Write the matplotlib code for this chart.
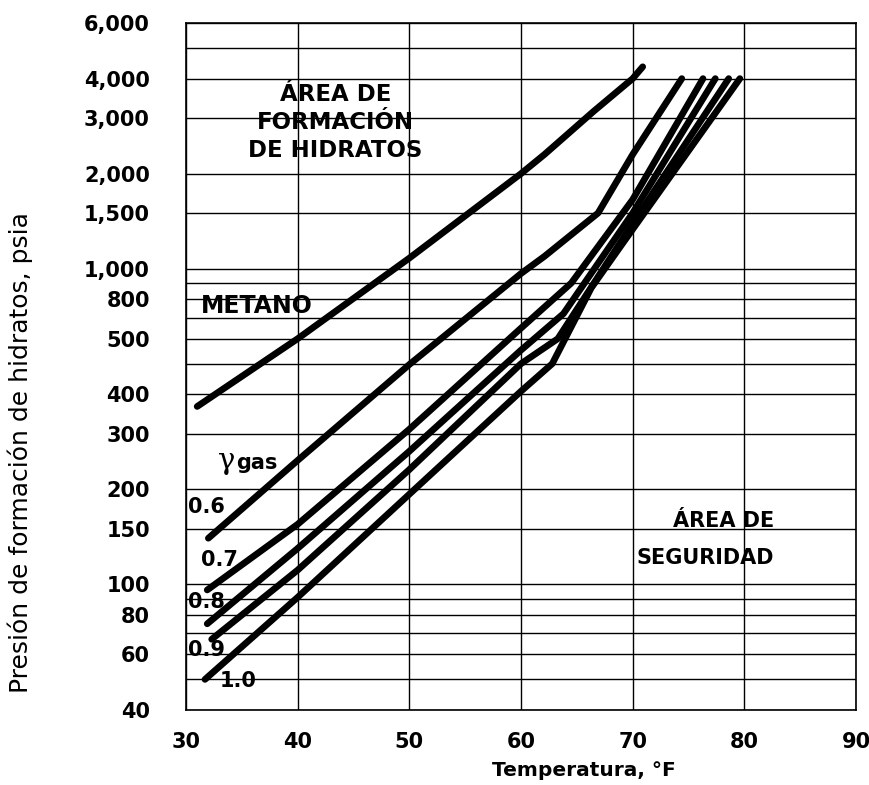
import matplotlib
matplotlib.use("Agg")
import matplotlib.pyplot as plt
from matplotlib.ticker import NullLocator

# Hydrate formation pressure (psia) vs temperature (°F)
metano_t = [31.0, 40, 50, 60, 62.1, 66.5, 70, 70.9]
metano_p = [366, 600, 1080, 2000, 2300, 3150, 4000, 4360]

g06_t = [32.0, 40, 50, 60, 62.1, 66.9, 70, 74.4]
g06_p = [140, 247, 497, 965, 1094, 1500, 2300, 4000]

g07_t = [31.9, 40, 50, 60, 64.5, 70, 76.3]
g07_p = [96, 155, 310, 648, 900, 1655, 4000]

g08_t = [31.9, 40, 50, 60, 63.8, 70, 77.4]
g08_p = [75, 130, 264, 552, 720, 1500, 4000]

g09_t = [32.3, 40, 50, 60, 63.3, 70, 78.6]
g09_p = [67, 111, 231, 500, 600, 1390, 4000]

g10_t = [31.7, 40, 50, 60, 62.8, 66.3, 68.9, 79.6]
g10_p = [50, 91, 193, 409, 500, 870, 1175, 4000]

gas_labels = ["0.6", "0.7", "0.8", "0.9", "1.0"]

x_ticks = [30, 40, 50, 60, 70, 80, 90]
y_grid = [40, 50, 60, 70, 80, 90, 100, 150, 200, 300, 400, 500, 600, 700,
          800, 900, 1000, 1500, 2000, 3000, 4000, 5000, 6000]
# labels as printed on the original chart (its "500" sits on the 600 line)
y_label_pos = [40, 60, 80, 100, 150, 200, 300, 400, 600, 800, 1000, 1500,
               2000, 3000, 4000, 6000]
y_label_txt = ["40", "60", "80", "100", "150", "200", "300", "400", "500",
               "800", "1,000", "1,500", "2,000", "3,000", "4,000", "6,000"]

plt.rcParams["font.family"] = ["DejaVu Sans"]

W, H = 870, 785
fig = plt.figure(figsize=(W / 100, H / 100), dpi=100)
ax = fig.add_axes([186 / W, 1 - 710 / H, 670 / W, 687 / H])

ax.set_yscale("log")
ax.set_xlim(30, 90)
ax.set_ylim(40, 6000)

# grid
for v in x_ticks:
    ax.axvline(v, color="black", lw=1.0, zorder=1)
for v in y_grid:
    ax.axhline(v, color="black", lw=1.0, zorder=1)

ax.set_xticks(x_ticks)
ax.set_xticklabels([str(v) for v in x_ticks])
ax.set_yticks(y_label_pos)
ax.set_yticklabels(y_label_txt)
ax.yaxis.set_minor_locator(NullLocator())
ax.tick_params(axis="both", length=0, labelsize=15)
ax.tick_params(axis="x", pad=16)
ax.tick_params(axis="y", pad=26)
for lab in ax.get_xticklabels() + ax.get_yticklabels():
    lab.set_fontweight("bold")
for sp in ax.spines.values():
    sp.set_linewidth(1.2)

series = [(metano_t, metano_p), (g06_t, g06_p), (g07_t, g07_p),
          (g08_t, g08_p), (g09_t, g09_p), (g10_t, g10_p)]
for t, p in series:
    ax.plot(t, p, color="black", lw=4.8, solid_capstyle="round",
            solid_joinstyle="round", zorder=3)

bold = dict(fontsize=15, fontweight="bold", color="black", zorder=4)
# va="baseline" on multi-line text anchors the last line
ax.text(43.4, 2250, "ÁREA DE\nFORMACIÓN\nDE HIDRATOS", ha="center",
        va="baseline", multialignment="center", linespacing=1.29,
        fontsize=16.5, fontweight="bold", zorder=4)
ax.text(31.3, 723, "METANO", ha="left", va="baseline",
        fontsize=17, fontweight="bold", zorder=4)
ax.text(82.7, 116, "ÁREA DE\nSEGURIDAD", ha="right", va="baseline",
        multialignment="right", linespacing=2.05, **bold)

ax.text(32.9, 232, "γ", ha="left", va="baseline", fontsize=21,
        family="DejaVu Serif", zorder=4)
ax.text(34.5, 232, "gas", ha="left", va="baseline", **bold)

gas_label_t = [30.2, 31.3, 30.2, 30.2, 33.0]
gas_label_p = [168, 114, 84, 59.3, 47.3]
for t, p, s in zip(gas_label_t, gas_label_p, gas_labels):
    ax.text(t, p, s, ha="left", va="baseline", **bold)

ax.set_xlabel("Temperatura, °F", fontsize=14.5, fontweight="bold")
ax.xaxis.set_label_coords(0.594, -0.074)
ax.set_ylabel("Presión de formación de hidratos, psia", fontsize=18)
ax.yaxis.set_label_coords(-0.228, 0.375)

fig.savefig("out.png", dpi=100)
